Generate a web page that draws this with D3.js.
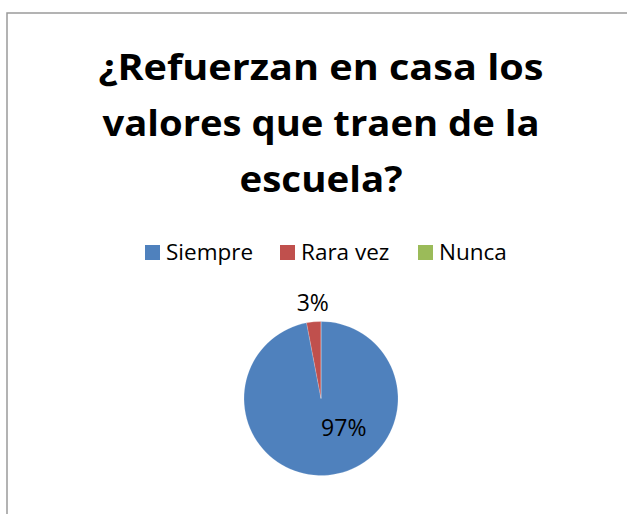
<!DOCTYPE html>
<html>
<head>
<meta charset="utf-8">
<script src="https://cdn.jsdelivr.net/npm/d3@7"></script>
<style>
  body { margin: 0; background: #fff; }
  svg { display: block; }
</style>
</head>
<body>
<div id="chart"></div>
<script>
// data
var titleLines = ["¿Refuerzan en casa los", "valores que traen de la", "escuela?"];
var categories = ["Siempre", "Rara vez", "Nunca"];
var values = [97, 3, 0];
var colors = ["#4F81BD", "#C0504D", "#9BBB59"];

var width = 627, height = 514;

var svg = d3.select("#chart")
    .append("svg")
    .attr("width", width)
    .attr("height", height);

// chart frame (runs past the right and bottom edge like the screenshot)
svg.append("rect")
    .attr("x", 7)
    .attr("y", 13)
    .attr("width", 660)
    .attr("height", 560)
    .attr("fill", "#fff")
    .attr("stroke", "#9a9a9a")
    .attr("stroke-width", 1.5);

// title, three centred lines
var titleWidths = [445, 437, 163];
var title = svg.append("g").attr("class", "title");
title.selectAll("text")
    .data(titleLines)
    .enter()
    .append("text")
    .attr("x", 321)
    .attr("y", function (d, i) { return 80 + i * 56; })
    .attr("text-anchor", "middle")
    .style("font-family", "'Open Sans', 'DejaVu Sans', sans-serif")
    .style("font-weight", "bold")
    .style("font-size", "36px")
    .attr("fill", "#000")
    .text(function (d) { return d; })
    .attr("textLength", function (d, i) { return titleWidths[i]; })
    .attr("lengthAdjust", "spacingAndGlyphs");

// legend
var legendX = [145, 280, 418];
var legend = svg.append("g").attr("class", "legend");
var item = legend.selectAll(".legendItem")
    .data(categories)
    .enter()
    .append("g")
    .attr("class", "legendItem")
    .attr("transform", function (d, i) { return `translate(${legendX[i]},245)`; });

item.append("rect")
    .attr("width", 15)
    .attr("height", 15)
    .attr("fill", function (d, i) { return colors[i]; });

item.append("text")
    .attr("x", 21)
    .attr("y", 15)
    .style("font-family", "'Open Sans', sans-serif")
    .style("font-size", "22.5px")
    .attr("fill", "#000")
    .text(function (d) { return d; });

// pie
var cx = 321, cy = 398.5, radius = 77;

var pie = d3.pie()
    .sort(null)
    .value(function (d) { return d; });

var arc = d3.arc()
    .innerRadius(0)
    .outerRadius(radius);

var arcs = pie(values);

var g = svg.append("g")
    .attr("transform", `translate(${cx},${cy})`);

g.selectAll(".arcs")
    .data(arcs)
    .enter()
    .append("path")
    .attr("class", "arcs")
    .attr("fill", function (d, i) { return colors[i]; })
    .attr("stroke", "rgba(255,255,255,0.35)")
    .attr("stroke-width", 0.5)
    .attr("d", arc);

// data labels: small slice outside, big slice inside
var fmt = d3.format(".0%");
var total = d3.sum(values);
var outerLabel = d3.arc().innerRadius(radius + 11).outerRadius(radius + 11);
var innerLabel = d3.arc().innerRadius(radius * 0.38).outerRadius(radius * 0.38);

g.selectAll(".pieLabel")
    .data(arcs.filter(function (d) { return d.value > 0; }))
    .enter()
    .append("text")
    .attr("class", "pieLabel")
    .attr("transform", function (d) {
        var big = d.value / total > 0.5;
        var c = big ? innerLabel.centroid(d) : outerLabel.centroid(d);
        var dx = big ? 20 : 0;
        return `translate(${c[0] + dx},${c[1]})`;
    })
    .attr("text-anchor", "middle")
    .attr("dy", function (d) { return d.value / total > 0.5 ? "0.35em" : "0em"; })
    .style("font-family", "'Open Sans', sans-serif")
    .style("font-size", "23px")
    .attr("fill", "#000")
    .text(function (d) { return fmt(d.value / total); });
</script>
</body>
</html>
